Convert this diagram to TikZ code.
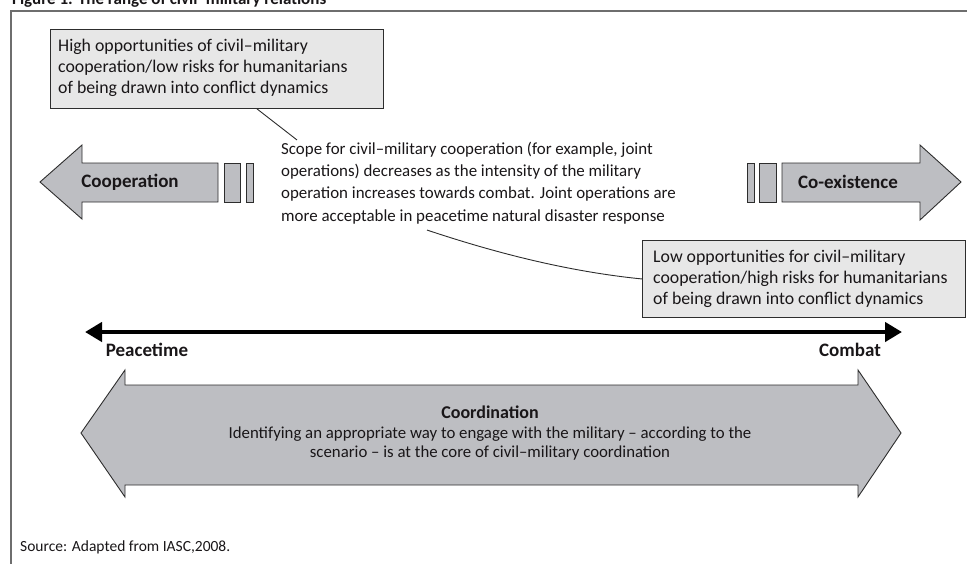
\documentclass[tikz,border=0pt]{standalone}
\usepackage{fontspec}
\setmainfont{Carlito}
\usetikzlibrary{arrows.meta,calc}
\definecolor{arrowgray}{RGB}{189,190,194}
\definecolor{boxgray}{RGB}{231,231,231}
\definecolor{linegray}{RGB}{45,45,45}
\definecolor{textc}{RGB}{25,22,24}
\definecolor{framec}{RGB}{110,110,110}
\begin{document}
\begin{tikzpicture}[x=1pt,y=-1pt,
  arrowshape/.style={fill=arrowgray, draw=linegray, line width=0.9pt, line join=miter},
  barshape/.style={fill=arrowgray, draw=linegray, line width=0.9pt},
  notebox/.style={fill=boxgray, draw=linegray, line width=0.9pt, inner sep=0pt, anchor=north west},
  notetext/.style={align=left, text=textc, font=\fontsize{17.8}{21}\selectfont, inner sep=0pt, anchor=west},
  bodytext/.style={text=textc, font=\fontsize{16.9}{22.2}\selectfont, align=left, inner sep=0pt},
  boldlabel/.style={text=textc, font=\bfseries\fontsize{19}{21}\selectfont, inner sep=0pt},
  poslabel/.style={text=textc, font=\bfseries\fontsize{19}{21}\selectfont, inner sep=0pt},
  leader/.style={draw=linegray, line width=0.9pt},
  spanline/.style={draw=black, line width=4.5pt, {Triangle[length=17pt,width=19pt]}-{Triangle[length=17pt,width=19pt]}}
]
\useasboundingbox (0,0) rectangle (967,563);
\clip (0,0) rectangle (967,563);

% frame and title (cut off at the top, as in the source)
\draw[framec, line width=1.5pt] (11,11) rectangle (990,590);
\node[anchor=base west, font=\bfseries\fontsize{17}{20}\selectfont, text=textc, inner sep=0pt] (title) at (12,4) {Figure 1: The range of civil–military relations};

% notes
\node[notebox, minimum width=333pt, minimum height=79pt] (hi) at (50,29) {};
\node[notetext] (hitext) at ($(hi.west)+(8,-1)$)
  {High opportunities of civil–military\\cooperation/low risks for humanitarians\\of being drawn into conflict dynamics};
\node[notebox, minimum width=323pt, minimum height=77pt] (lo) at (642,240) {};
\node[notetext] (lotext) at ($(lo.west)+(11,0)$)
  {Low opportunities for civil–military\\cooperation/high risks for humanitarians\\of being drawn into conflict dynamics};

% central text
\node[bodytext, anchor=west] (scope) at (281,183)
  {Scope for civil–military cooperation (for example, joint\\operations) decreases as the intensity of the military\\operation increases towards combat. Joint operations are\\more acceptable in peacetime natural disaster response};

% leaders
\draw[leader] ($(hi.south west)+(207,0)$) -- ($(scope.north west)+(16,-2)$);
\draw[leader] ($(scope.south west)+(146,6)$) .. controls +(60,20) and +(-80,-8) .. (lo.west);

% cooperation arrow
\draw[arrowshape] (40,182) -- (82,145) -- (82,163) -- (218,163) -- (218,202) -- (82,202) -- (82,219) -- cycle;
\draw[barshape] (224,163) rectangle (240,202);
\draw[barshape] (246,163) rectangle (253,202);
\node[boldlabel] (coop) at (130,182) {Cooperation};

% co-existence arrow
\draw[barshape] (747,163) rectangle (754,202);
\draw[barshape] (759,163) rectangle (776,202);
\draw[arrowshape] (782,163) -- (920,163) -- (920,145) -- (961,182) -- (920,220) -- (920,202) -- (782,202) -- cycle;
\node[boldlabel] (coex) at (848,182) {Co-existence};

% peacetime -- combat
\coordinate (pl) at (85,332);
\coordinate (pr) at (902,332);
\draw[spanline] (pl) -- (pr);
\node[poslabel] (peace) at (147,350) {Peacetime};
\node[poslabel] (combat) at (850,350) {Combat};

% coordination arrow
\draw[arrowshape] (81,433) -- (125,370) -- (125,385) -- (858,385) -- (858,370) -- (901,433) -- (858,497) -- (858,485) -- (125,485) -- (125,497) -- cycle;
\node[poslabel, font=\bfseries\fontsize{18}{20}\selectfont] (coord) at (490,412) {Coordination};
\node[text=textc, font=\fontsize{16.8}{18.3}\selectfont, align=center, inner sep=0pt] (coordtext) at (490,443.5)
  {Identifying an appropriate way to engage with the military – according to the\\scenario – is at the core of civil–military coordination};

% source
\node[anchor=west, text=textc, font=\fontsize{15.5}{17}\selectfont, inner sep=0pt] (source) at (20,547) {Source: Adapted from IASC,2008.};
\end{tikzpicture}
\end{document}
